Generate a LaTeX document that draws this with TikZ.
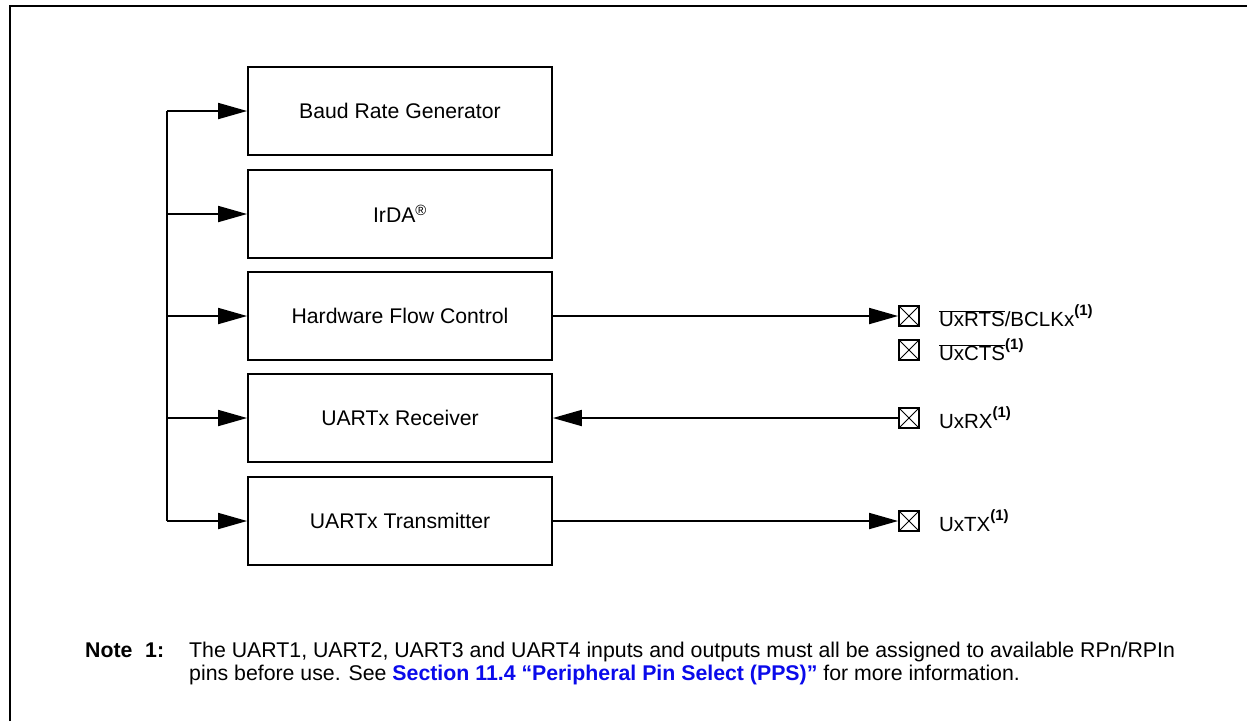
\documentclass[tikz,border=0pt]{standalone}
\usepackage{fontspec}
\setmainfont{Liberation Sans}
\usetikzlibrary{arrows.meta}
\definecolor{linkblue}{RGB}{10,10,235}
\tikzset{
  blk/.style={draw, line width=1.8pt, minimum width=304pt, minimum height=88pt, inner sep=0pt, font=\fontsize{21.2}{25}\selectfont},
  conn/.style={line width=1.8pt},
  arr/.style={line width=1.8pt, -{Triangle[length=29pt,width=16pt]}},
  pinbox/.style={draw, line width=1.8pt, minimum size=20pt, inner sep=0pt,
    path picture={\draw[line width=1pt] (path picture bounding box.south west) -- (path picture bounding box.north east)
      (path picture bounding box.north west) -- (path picture bounding box.south east);}},
  pinlbl/.style={anchor=west, inner sep=0pt, font=\fontsize{20.5}{24}\selectfont},
  notetxt/.style={inner sep=0pt, anchor=base west, font=\fontsize{21.3}{24}\selectfont}
}
\newcommand{\supone}{\raisebox{0.55em}{\fontsize{15}{16}\selectfont\textbf{(1)}}}
\begin{document}
\begin{tikzpicture}[x=1pt,y=-1pt]
\useasboundingbox (0,0) rectangle (1247,721);
% frame
\draw[line width=2.2pt] (10,721) -- (10,6) -- (1247,6);
% blocks
\node[blk] (brg) at (400,111) {Baud Rate Generator};
\node[blk] (irda) at (400,214) {IrDA\textsuperscript{\textregistered}};
\node[blk] (hfc) at (400,316) {Hardware Flow Control};
\node[blk] (rx) at (400,418) {UARTx Receiver};
\node[blk] (tx) at (400,521) {UARTx Transmitter};
% bus
\coordinate (bus) at (167,0);
\draw[conn] (brg.west -| bus) -- (tx.west -| bus);
\foreach \b in {brg,irda,hfc,rx,tx}{
  \draw[arr] (\b.west -| bus) -- (\b.west);
}
% pins
\node[pinbox] (prts) at (909,316) {};
\node[pinbox] (pcts) at (909,350) {};
\node[pinbox] (prx) at (909,418) {};
\node[pinbox] (ptx) at (909,521) {};
\node[pinlbl] (lrts) at ([xshift=19pt]prts.east) {$\overline{\hbox{UxRTS}}$/BCLKx\supone};
\node[pinlbl] (lcts) at ([xshift=19pt]pcts.east) {$\overline{\hbox{UxCTS}}$\supone};
\node[pinlbl] (lrx) at ([xshift=19pt]prx.east) {UxRX\supone};
\node[pinlbl] (ltx) at ([xshift=19pt]ptx.east) {UxTX\supone};
% connectors
\draw[arr] (hfc.east) -- (prts.west);
\draw[arr] (prx.west) -- (rx.east);
\draw[arr] (tx.east) -- (ptx.west);
% note
\node[notetxt] (nlab) at (85,657) {\textbf{Note}};
\node[notetxt] (nnum) at (145,657) {\textbf{1:}};
\node[notetxt] (nline1) at (189,657) {The UART1, UART2, UART3 and UART4 inputs and outputs must all be assigned to available RPn/RPIn};
\node[notetxt] (nline2) at (189,680) {pins before use. See \textcolor{linkblue}{\textbf{Section 11.4 \textquotedblleft Peripheral Pin Select (PPS)\textquotedblright}} for more information.};
\end{tikzpicture}
\end{document}
